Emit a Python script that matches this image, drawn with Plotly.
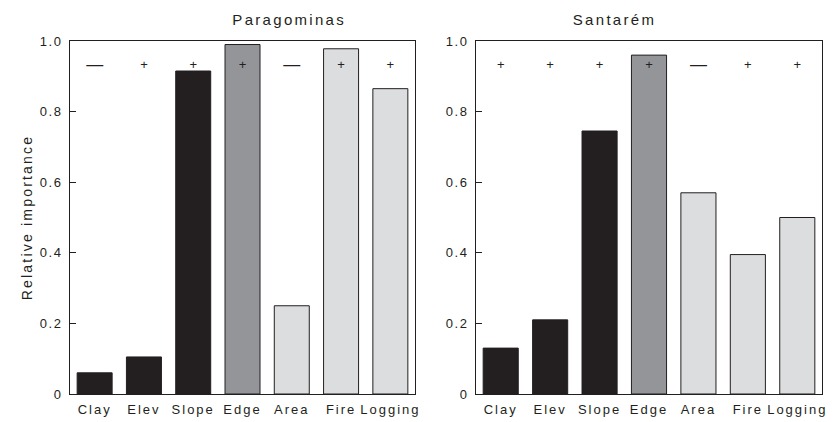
import plotly.graph_objects as go

categories = ["Clay", "Elev", "Slope", "Edge", "Area", "Fire", "Logging"]
paragominas = [0.06, 0.105, 0.915, 0.99, 0.25, 0.978, 0.865]
santarem = [0.13, 0.21, 0.745, 0.96, 0.57, 0.395, 0.50]
signs_paragominas = ["—", "+", "+", "+", "—", "+", "+"]
signs_santarem = ["+", "+", "+", "+", "—", "+", "+"]
sign_level = 0.93
bar_colors = ["#231f20", "#231f20", "#231f20", "#939598", "#dcdddf", "#dcdddf", "#dcdddf"]
ytick_vals = [0, 0.2, 0.4, 0.6, 0.8, 1.0]
ytick_text = ["0", "0.2", "0.4", "0.6", "0.8", "1.0"]

FONT = "Liberation Sans, Arial, sans-serif"
fig = go.Figure()

for i, (vals, signs) in enumerate([(paragominas, signs_paragominas), (santarem, signs_santarem)]):
    xa = "x" if i == 0 else "x2"
    ya = "y" if i == 0 else "y2"
    fig.add_trace(go.Bar(
        x=categories, y=vals, xaxis=xa, yaxis=ya,
        marker=dict(color=bar_colors, line=dict(color="#231f20", width=1)),
        showlegend=False, hoverinfo="x+y"))
    fig.add_trace(go.Scatter(
        x=categories, y=[sign_level] * len(categories), xaxis=xa, yaxis=ya,
        mode="text", text=signs,
        textfont=dict(family=FONT, size=[17 if s == "—" else 13 for s in signs],
                      color="#231f20"),
        showlegend=False, hoverinfo="skip"))

W = 752
axis_common = dict(showline=True, linecolor="#231f20", linewidth=1, mirror=True,
                   showgrid=False, zeroline=False, automargin=False)
fig.update_layout(
    width=833, height=422,
    margin=dict(l=70, r=11, t=41, b=28),
    plot_bgcolor="white", paper_bgcolor="white",
    bargap=0.29,
    font=dict(family=FONT, size=12, color="#231f20"),
    xaxis=dict(domain=[0, 345 / W], ticks="", tickfont=dict(size=13), ticklabelstandoff=3,
               **axis_common),
    xaxis2=dict(domain=[406 / W, 1], ticks="", tickfont=dict(size=13), ticklabelstandoff=3,
                **axis_common),
    yaxis=dict(range=[0, 1], tickvals=ytick_vals, ticktext=ytick_text, ticks="inside",
               ticklen=6, tickcolor="#231f20", tickfont=dict(size=13), ticklabelstandoff=4,
               title=dict(text="Relative importance", font=dict(size=14), standoff=8),
               **axis_common),
    yaxis2=dict(range=[0, 1], anchor="x2", tickvals=ytick_vals, ticktext=ytick_text,
                ticks="inside", ticklen=6, tickcolor="#231f20", tickfont=dict(size=13),
                ticklabelstandoff=4, **axis_common),
    annotations=[
        dict(text="Paragominas", x=(345 / W) / 2, y=1, xref="paper", yref="paper",
             yanchor="bottom", yshift=11, showarrow=False, font=dict(size=15)),
        dict(text="Santarém", x=(406 / W + 1) / 2, y=1, xref="paper", yref="paper",
             yanchor="bottom", yshift=11, showarrow=False, font=dict(size=15)),
    ],
)
fig.update_xaxes(tickangle=0)

post = """
document.body.style.margin = '0';
var st = document.createElement('style');
st.textContent = '.xtick text, .x2tick text {letter-spacing: 2px;} .ytick text, .y2tick text {letter-spacing: 1.5px;} .ytitle {letter-spacing: 2.2px;} .annotation-text {letter-spacing: 2.3px;}';
document.head.appendChild(st);
"""
fig.write_html("out.html", post_script=post, config={"displayModeBar": False})
